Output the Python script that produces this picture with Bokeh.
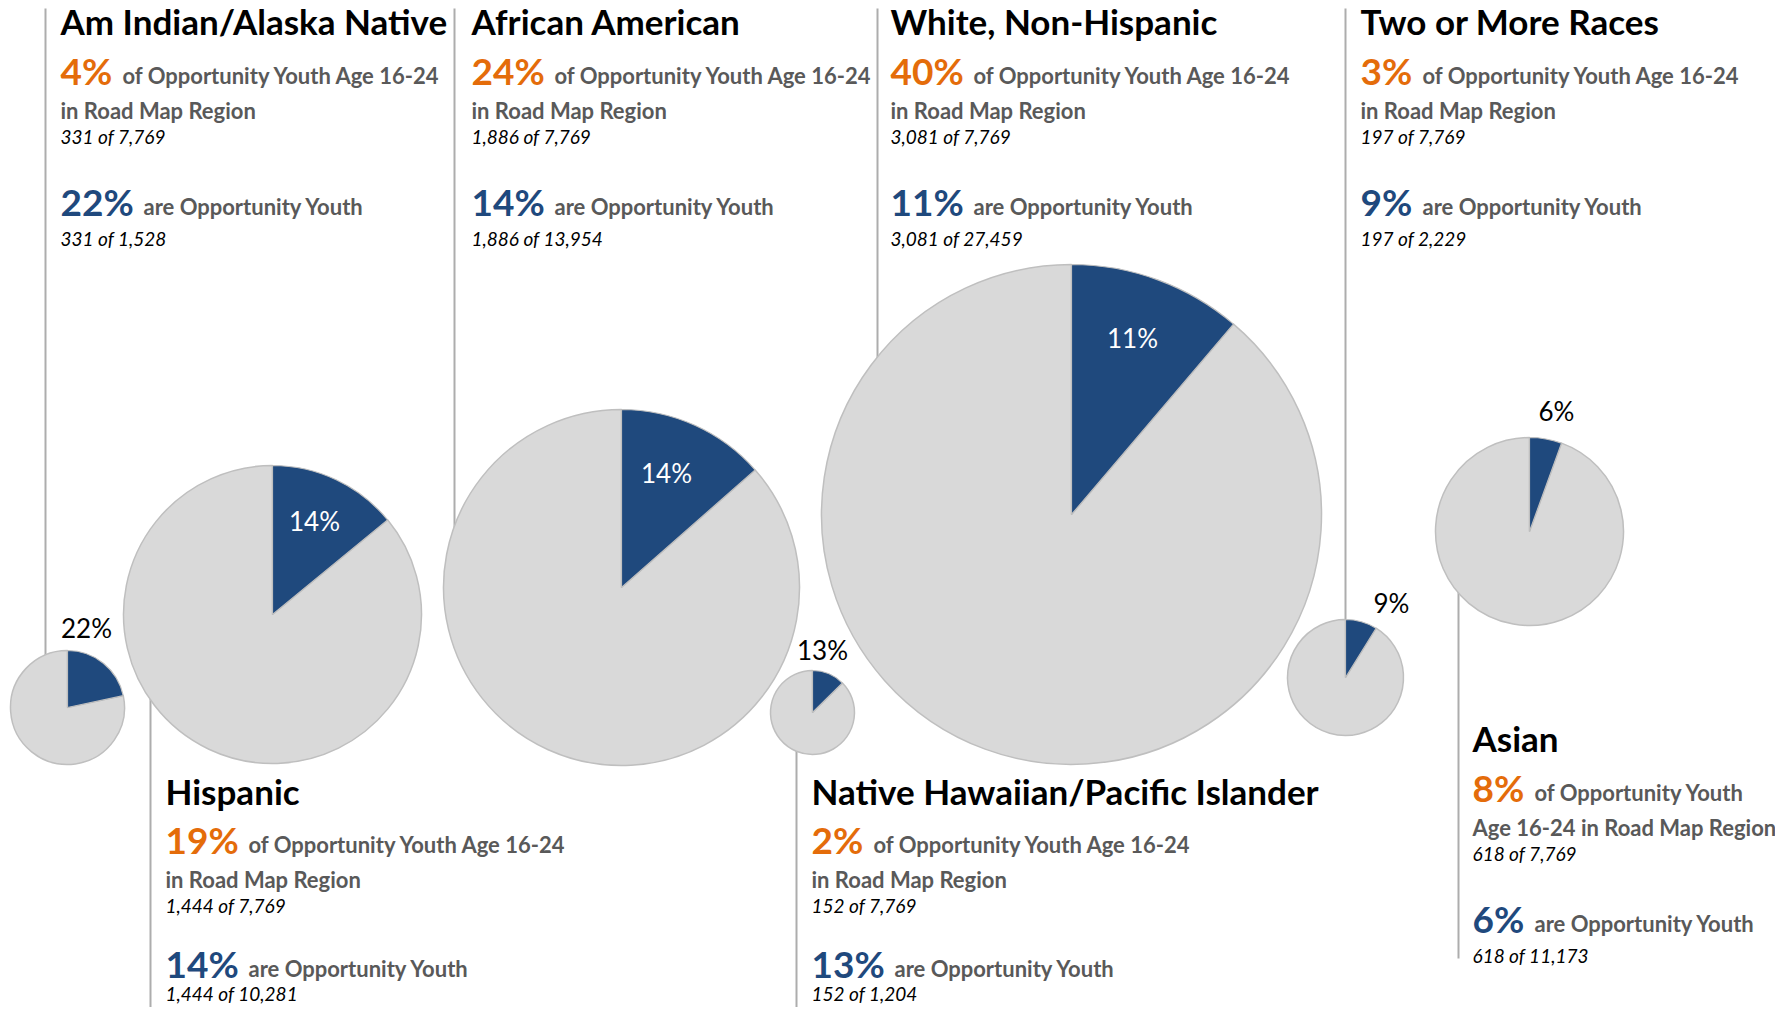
import math
from bokeh.plotting import figure
from bokeh.models import ColumnDataSource
from bokeh.core.properties import value
from bokeh.embed import file_html
from bokeh.resources import INLINE

# ---------------- data ----------------
groups = ["Am Indian/Alaska Native", "Hispanic", "African American",
          "Native Hawaiian/Pacific Islander", "White, Non-Hispanic",
          "Two or More Races", "Asian"]
oy_counts = [331, 1444, 1886, 152, 3081, 197, 618]          # opportunity youth per group
group_totals = [1528, 10281, 13954, 1204, 27459, 2229, 11173]  # youth age 16-24 per group
region_total = 7769                                           # all opportunity youth in region
share_words = "of Opportunity Youth Age 16-24 in Road Map Region"
rate_words = "are Opportunity Youth"

# ---------------- layout (reference pixel coordinates) ----------------
W, H = 1775, 1007
BASE_K = 0.36   # baseline correction (fraction of font size)


def X(px):
    return px


def Y(py):
    return H - py


pie_cx = [67, 272, 621, 812, 1071, 1345, 1529]
pie_cy = [707, 614, 587, 712, 514, 677, 531]
pie_r = [57, 149, 178, 42, 250, 58, 94]
label_xy = [(86, 628), (314, 521), (666, 473), (822, 650), (1132, 338), (1391, 603), (1556, 411)]
label_inside = [False, True, True, False, True, False, False]
block_x = [60, 165, 471, 811, 890, 1360, 1472]
block_t = [33, 803, 33, 803, 33, 33, 750]
line_x = [45, 150, 454, 796, 877, 1345, 1458]
line_far_end = [8, 1013, 8, 1013, 8, 8, 958]
wrap_words = [5, 5, 5, 5, 5, 5, 3]   # words of share_words kept on first line
OFF_FULL = [0, 50, 85, 110, 181, 212]
OFF_TIGHT = [0, 49, 84, 109, 173, 197]   # blocks that sit against the bottom edge
row_offsets = [OFF_FULL, OFF_TIGHT, OFF_FULL, OFF_TIGHT, OFF_FULL, OFF_FULL, OFF_FULL]

FONT = "Lato"
ORANGE = "#E46C0A"
BLUE = "#1F497D"
GRAY_TXT = "#595959"
PIE_GRAY = "#D9D9D9"
PIE_EDGE = "#BFBFBF"
RULE = "#ADADAD"

p = figure(width=W, height=H, x_range=(0, W), y_range=(0, H),
           output_backend="svg", toolbar_location=None, min_border=0,
           x_axis_type=None, y_axis_type=None)
p.grid.visible = False
p.outline_line_color = None
p.background_fill_color = "white"
p.border_fill_color = "white"

# vertical rules (drawn under the pies)
xs0, ys0, xs1, ys1 = [], [], [], []
for i in range(len(groups)):
    xs0.append(X(line_x[i]))
    xs1.append(X(line_x[i]))
    ys0.append(Y(line_far_end[i]))
    ys1.append(Y(pie_cy[i]))
p.segment(x0=xs0, y0=ys0, x1=xs1, y1=ys1, line_color=RULE, line_width=2)

# pies
fr = [c / t for c, t in zip(oy_counts, group_totals)]
start = math.pi / 2
blue_end = [start - 2 * math.pi * f for f in fr]
pie_src = ColumnDataSource(dict(
    x=[X(v) for v in pie_cx], y=[Y(v) for v in pie_cy], r=pie_r,
    s=[start] * len(fr), e=blue_end))
p.wedge(x="x", y="y", radius="r", start_angle="e", end_angle="s", direction="clock",
        source=pie_src, fill_color=PIE_GRAY, line_color=PIE_EDGE, line_width=1.5)
p.wedge(x="x", y="y", radius="r", start_angle="s", end_angle="e", direction="clock",
        source=pie_src, fill_color=BLUE, line_color=PIE_EDGE, line_width=1.2)


def add_text(xs, ys, texts, size, style, color, align="left"):
    ys = [Y(v - BASE_K * size) for v in ys]
    src = ColumnDataSource(dict(x=[X(v) for v in xs], y=ys, t=texts))
    p.text(x="x", y="y", text="t", source=src, text_font=value(FONT),
           text_font_size=value(f"{size}px"), text_font_style=style, text_color=color,
           text_align=align, text_baseline="alphabetic")


# pie labels
pct_rate = [round(f * 100) for f in fr]
in_x, in_y, in_t, out_x, out_y, out_t = [], [], [], [], [], []
for i, (lx, ly) in enumerate(label_xy):
    txt = f"{pct_rate[i]}%"
    if label_inside[i]:
        in_x.append(lx); in_y.append(ly + 9); in_t.append(txt)
    else:
        out_x.append(lx); out_y.append(ly + 9); out_t.append(txt)
add_text(in_x, in_y, in_t, 26, "normal", "white", align="center")
add_text(out_x, out_y, out_t, 26, "normal", "black", align="center")

# text blocks
title = ([], [], [])
pct_o = ([], [], [])
pct_b = ([], [], [])
gray = ([], [], [])
ital = ([], [], [])
words = share_words.split()
for i, g in enumerate(groups):
    bx = block_x[i]
    t0 = block_t[i]
    offs = row_offsets[i]
    share = round(oy_counts[i] / region_total * 100)
    rate = pct_rate[i]

    def put(bucket, x, y, s):
        bucket[0].append(x); bucket[1].append(y); bucket[2].append(s)

    put(title, bx, t0 + offs[0], g)
    s1 = f"{share}%"
    put(pct_o, bx, t0 + offs[1], s1)
    put(gray, bx + 21 * (len(s1) - 1) + 41, t0 + offs[1], " ".join(words[:wrap_words[i]]))
    put(gray, bx, t0 + offs[2], " ".join(words[wrap_words[i]:]))
    put(ital, bx, t0 + offs[3], f"{oy_counts[i]:,} of {region_total:,}")
    s2 = f"{rate}%"
    put(pct_b, bx, t0 + offs[4], s2)
    put(gray, bx + 21 * (len(s2) - 1) + 41, t0 + offs[4], rate_words)
    put(ital, bx, t0 + offs[5], f"{oy_counts[i]:,} of {group_totals[i]:,}")

add_text(*title, 35, "bold", "black")
add_text(*pct_o, 37, "bold", ORANGE)
add_text(*pct_b, 37, "bold", BLUE)
add_text(*gray, 22, "bold", GRAY_TXT)
add_text(*ital, 19, "italic", "black")

open("out.html", "w").write(file_html(p, INLINE))
